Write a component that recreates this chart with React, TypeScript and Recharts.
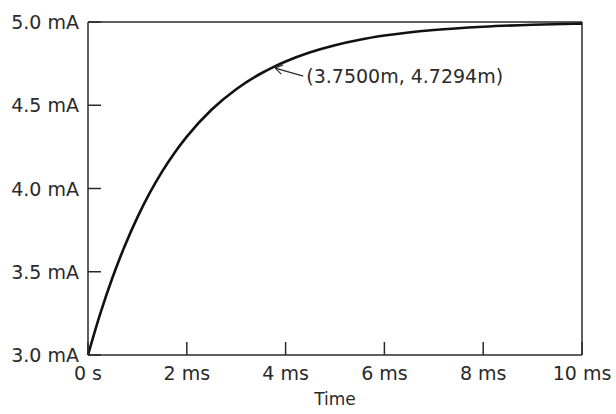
import React from 'react';
import { LineChart, Line, XAxis, YAxis, ReferenceLine, ReferenceDot } from 'recharts';

const timeMs = [0, 0.25, 0.5, 0.75, 1, 1.25, 1.5, 1.75, 2, 2.5, 3, 3.5, 3.75, 4, 4.5, 5, 5.5, 6, 7, 8, 9, 10];
const currentMA = [3.0, 3.2497, 3.4681, 3.6594, 3.8267, 3.9732, 4.1013, 4.2135, 4.3117, 4.4728, 4.5962, 4.6907, 4.7293, 4.7631, 4.8186, 4.861, 4.8936, 4.9185, 4.9522, 4.9719, 4.9835, 4.9903];
const xTicks = [0, 2, 4, 6, 8, 10];
const xTickLabels = ['0 s', '2 ms', '4 ms', '6 ms', '8 ms', '10 ms'];
const yTicks = [3.0, 3.5, 4.0, 4.5, 5.0];
const yTickLabels = ['3.0 mA', '3.5 mA', '4.0 mA', '4.5 mA', '5.0 mA'];
const markerPoint = { t: 3.75, i: 4.7294 };
const markerLabel = '(3.7500m, 4.7294m)';
const xAxisTitle = 'Time';

const data = timeMs.map((t, k) => ({ t, i: currentMA[k] }));

const FONT = '"DejaVu Sans", sans-serif';
const INK = '#2a2a2a';

const XTick = (props: any) => {
  const { x, y, payload } = props;
  const idx = xTicks.indexOf(payload.value);
  return (
    <g>
      <line x1={x} y1={y} x2={x} y2={y - 13} stroke={INK} strokeWidth={1.5} />
      <text x={x} y={y + 25} textAnchor="middle" fontFamily={FONT} fontSize={19} fill={INK}>
        {xTickLabels[idx]}
      </text>
    </g>
  );
};

const YTick = (props: any) => {
  const { x, y, payload } = props;
  const idx = yTicks.indexOf(payload.value);
  return (
    <g>
      <line x1={x} y1={y} x2={x + 13} y2={y} stroke={INK} strokeWidth={1.5} />
      <text x={x - 9} y={y + 7} textAnchor="end" fontFamily={FONT} fontSize={19} fill={INK}>
        {yTickLabels[idx]}
      </text>
    </g>
  );
};

const Marker = (props: any) => {
  const { cx, cy } = props;
  const ax = cx + 2;
  const ay = cy + 1;
  return (
    <g>
      <line x1={ax} y1={ay} x2={ax + 28} y2={ay + 8} stroke={INK} strokeWidth={1.2} />
      <polyline
        points={`${ax + 8},${ay - 3} ${ax},${ay} ${ax + 6},${ay + 6}`}
        fill="none"
        stroke={INK}
        strokeWidth={1.2}
      />
      <text x={ax + 31} y={ay + 15} fontFamily={FONT} fontSize={19} fill={INK}>
        {markerLabel}
      </text>
    </g>
  );
};

export default function App() {
  return (
    <div style={{ position: 'absolute', left: 0, top: 0, width: 616, height: 414, background: '#fff' }}>
      <LineChart width={616} height={414} data={data} margin={{ top: 22, right: 34, bottom: 21, left: 0 }}>
        <XAxis
          dataKey="t"
          type="number"
          domain={[0, 10]}
          ticks={xTicks}
          tick={<XTick />}
          tickSize={0}
          tickMargin={0}
          tickLine={false}
          axisLine={{ stroke: INK, strokeWidth: 1.5 }}
          height={38}
          interval={0}
          label={{ value: xAxisTitle, position: 'bottom', offset: 0, fontFamily: FONT, fontSize: 17, fill: INK }}
        />
        <YAxis
          type="number"
          domain={[3, 5]}
          ticks={yTicks}
          tick={<YTick />}
          tickSize={0}
          tickMargin={0}
          tickLine={false}
          axisLine={{ stroke: INK, strokeWidth: 1.5 }}
          width={88}
          interval={0}
        />
        <ReferenceLine y={5} stroke={INK} strokeWidth={1.5} />
        <ReferenceLine x={10} stroke={INK} strokeWidth={1.5} />
        <Line
          dataKey="i"
          type="monotone"
          stroke="#111"
          strokeWidth={2.6}
          dot={false}
          isAnimationActive={false}
        />
        <ReferenceDot x={markerPoint.t} y={markerPoint.i} r={0} shape={<Marker />} />
      </LineChart>
    </div>
  );
}
